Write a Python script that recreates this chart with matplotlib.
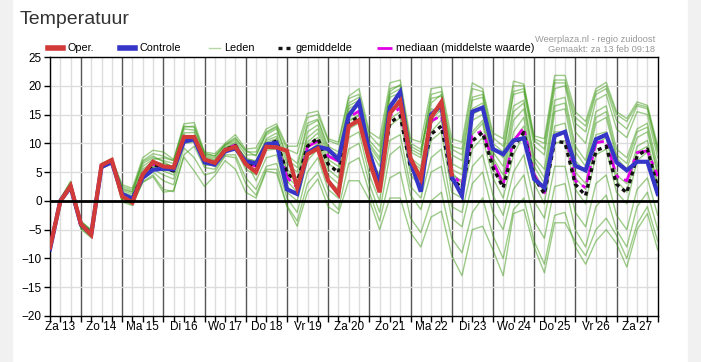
import numpy as np
import matplotlib.pyplot as plt
from matplotlib.lines import Line2D
from matplotlib.patches import Rectangle
import matplotlib.transforms as mtransforms

plt.rcParams['font.family'] = ['Liberation Sans', 'DejaVu Sans']

# ---------- data: 6-hourly steps, hours since Za 13 00:00 ----------
hours = np.arange(6, 361, 6)          # 60 steps
day_labels = ['Za 13', 'Zo 14', 'Ma 15', 'Di 16', 'Wo 17', 'Do 18', 'Vr 19', 'Za 20',
              'Zo 21', 'Ma 22', 'Di 23', 'Wo 24', 'Do 25', 'Vr 26', 'Za 27']

oper = [-8.1, -0.1, 2.6, -4.0, -5.9, 6.2, 7.1, 0.8, -0.3, 4.6,
        6.8, 6.0, 5.8, 11.1, 11.1, 7.2, 6.6, 8.8, 9.4, 6.4,
        5.0, 9.4, 9.3, 8.7, 2.3, 8.1, 9.1, 3.5, 1.2, 13.0,
        14.0, 7.0, 1.5, 15.2, 17.4, 7.4, 3.8, 14.5, 17.2, 4.6]

controle = [-8.4, 0.0, 2.4, -4.1, -5.8, 5.9, 6.7, 1.2, 0.4, 4.0,
            5.4, 5.6, 5.5, 10.3, 10.7, 6.7, 6.3, 8.6, 9.1, 6.9,
            6.5, 9.8, 10.1, 2.0, 1.2, 8.4, 9.4, 9.0, 7.2, 14.8,
            17.2, 8.5, 2.7, 16.3, 18.9, 6.8, 1.6, 15.0, 16.6, 4.2,
            0.9, 15.5, 16.2, 9.0, 8.1, 10.5, 10.9, 3.8, 2.3, 11.3,
            12.0, 6.1, 5.3, 10.7, 11.5, 6.7, 5.3, 6.8, 6.8, 1.2]

gemiddelde = [-8.2, 0.0, 2.6, -4.2, -5.6, 6.0, 6.9, 1.0, 0.4, 4.6,
              6.3, 5.8, 5.2, 10.9, 11.0, 7.0, 6.5, 8.9, 9.6, 6.5,
              5.8, 9.8, 10.4, 4.9, 3.2, 9.5, 10.9, 6.4, 4.9, 13.6,
              14.6, 7.5, 3.5, 13.6, 14.8, 5.8, 4.3, 11.6, 13.0, 3.8,
              2.3, 10.4, 11.9, 5.8, 2.3, 9.3, 11.9, 4.1, 1.2, 10.4,
              10.1, 2.9, 0.9, 8.7, 9.5, 2.9, 1.4, 7.8, 9.0, 2.3]

mediaan = [-8.2, 0.0, 2.6, -4.1, -5.7, 6.0, 7.0, 1.0, 0.3, 4.7,
           6.4, 5.9, 5.4, 11.1, 11.1, 7.0, 6.5, 9.0, 9.7, 6.6,
           6.0, 9.9, 10.1, 4.1, 2.3, 9.4, 10.4, 7.8, 6.9, 14.5,
           15.6, 7.8, 3.0, 14.8, 16.2, 6.4, 4.0, 13.9, 14.8, 4.6,
           2.9, 11.3, 12.2, 6.9, 2.9, 10.4, 12.7, 4.6, 1.4, 11.3,
           11.9, 3.5, 2.3, 10.1, 10.4, 4.3, 3.5, 8.4, 8.7, 4.3]

leden = [
    [-8.0, 0.3, 3.3, -3.6, -5.1, 6.4, 7.4, 2.8, 2.2, 7.5,
     8.8, 8.5, 7.2, 13.4, 13.6, 8.5, 8.2, 10.0, 11.5, 9.0,
     9.2, 12.5, 13.4, 9.5, 9.5, 15.2, 15.6, 10.8, 10.2, 18.2,
     19.5, 12.0, 10.8, 20.5, 21.0, 10.8, 10.2, 19.5, 19.8, 10.8,
     10.2, 20.5, 19.5, 11.8, 10.8, 20.8, 20.3, 11.3, 10.8, 21.8,
     21.8, 15.5, 13.8, 19.5, 20.6, 15.5, 14.3, 17.2, 16.6, 9.6],
    [-8.3, 0.1, 3.0, -4.0, -5.4, 6.2, 7.2, 2.0, 1.5, 6.5,
     7.5, 7.0, 6.5, 12.5, 12.3, 8.0, 7.5, 9.6, 10.5, 8.0,
     8.0, 11.5, 12.5, 8.0, 6.5, 13.5, 14.2, 9.5, 8.5, 17.0,
     18.0, 10.5, 8.5, 18.5, 19.5, 9.5, 8.5, 17.8, 18.2, 9.0,
     8.0, 18.0, 18.5, 10.0, 8.5, 18.5, 19.0, 9.5, 8.0, 19.5,
     20.0, 12.0, 10.0, 17.5, 18.5, 12.5, 11.0, 15.5, 15.0, 7.5],
    [-8.1, -0.2, 2.4, -4.5, -6.0, 5.8, 6.8, 0.5, -0.2, 4.0,
     5.5, 4.5, 3.8, 10.0, 10.2, 6.5, 6.0, 8.5, 9.0, 5.5,
     4.5, 8.8, 9.0, 2.5, 1.0, 8.5, 10.0, 4.5, 3.0, 12.5,
     13.5, 6.0, 1.5, 13.0, 14.5, 4.5, 2.5, 10.5, 12.0, 1.5,
     0.5, 9.0, 11.0, 4.0, 0.5, 8.0, 11.5, 3.0, -0.5, 10.0,
     10.5, 2.0, -0.5, 8.0, 9.0, 1.5, -0.5, 7.0, 8.5, 2.0],
    [-8.4, 0.2, 2.8, -3.8, -5.3, 6.1, 7.0, 1.5, 0.9, 5.5,
     6.8, 6.5, 6.0, 11.8, 11.9, 7.6, 7.0, 9.3, 10.2, 7.2,
     7.0, 10.8, 11.8, 6.5, 5.0, 11.0, 12.5, 8.0, 7.0, 15.5,
     16.5, 9.0, 6.0, 17.0, 17.5, 7.5, 6.0, 15.0, 16.5, 6.5,
     5.5, 16.0, 17.0, 8.5, 6.0, 16.5, 17.5, 7.5, 5.5, 17.5,
     18.0, 9.5, 7.0, 15.5, 16.5, 9.0, 7.5, 12.5, 13.5, 6.0],
    [-8.2, -0.3, 2.2, -4.7, -6.3, 5.6, 6.6, -0.2, -0.8, 3.3,
     4.5, 2.0, 1.6, 8.0, 9.5, 5.8, 5.5, 8.0, 8.0, 4.0,
     2.0, 6.0, 6.5, 0.5, -2.0, 5.0, 7.5, 2.0, 0.5, 9.0,
     10.0, 3.0, -2.0, 8.0, 9.5, 1.0, -1.5, 5.0, 6.0, -3.0,
     -4.5, 3.0, 5.0, -2.0, -5.0, 2.0, 4.5, -3.5, -6.5, 2.5,
     3.0, -5.0, -8.0, -1.0, 1.0, -5.0, -8.0, -1.0, 1.5, -5.0],
    [-8.0, 0.0, 2.7, -4.1, -5.5, 6.0, 7.1, 1.2, 0.6, 5.0,
     6.2, 6.0, 5.5, 11.2, 11.2, 7.2, 6.6, 9.0, 9.8, 6.8,
     6.2, 10.2, 10.8, 5.5, 4.0, 10.2, 11.8, 7.2, 6.0, 14.5,
     15.5, 8.0, 4.0, 15.5, 16.5, 6.5, 5.0, 13.5, 15.0, 4.5,
     3.5, 14.0, 15.0, 7.0, 3.5, 14.0, 16.0, 6.0, 3.0, 15.5,
     16.0, 7.0, 5.0, 13.5, 14.5, 7.5, 5.5, 11.0, 12.0, 4.5],
    [-8.3, 0.4, 3.4, -3.5, -5.0, 6.5, 7.3, 2.5, 1.9, 6.8,
     7.8, 6.8, 5.8, 11.5, 10.5, 6.2, 6.3, 8.6, 9.3, 6.0,
     5.0, 9.5, 10.5, 3.5, 1.5, 9.2, 10.5, 5.5, 4.0, 13.8,
     14.8, 7.0, 3.0, 14.2, 15.5, 5.5, 4.0, 12.0, 14.0, 3.5,
     2.0, 11.5, 13.5, 5.5, 2.5, 12.0, 14.5, 4.5, 1.5, 13.0,
     13.5, 5.0, 3.0, 11.5, 12.0, 4.5, 3.0, 9.5, 10.5, 3.0],
    [-8.2, -0.1, 2.5, -4.4, -5.8, 5.9, 6.7, 0.3, 0.0, 3.8,
     5.0, 3.5, 2.8, 9.2, 7.5, 4.5, 5.0, 7.8, 7.5, 3.0,
     1.0, 5.5, 5.5, -0.8, -3.5, 3.0, 5.0, 0.5, -1.5, 6.5,
     7.5, 1.5, -3.5, 4.0, 5.0, -3.0, -5.5, 0.0, 1.5, -6.5,
     -9.0, -2.0, 0.5, -6.0, -10.0, -1.5, 0.5, -7.0, -11.0, -2.5,
     -2.0, -8.0, -11.0, -7.0, -5.0, -7.4, -11.5, -5.0, -2.2, -8.5],
    [-8.5, -0.4, 2.1, -4.9, -6.4, 5.6, 6.5, 0.0, -0.6, 3.2,
     4.2, 1.5, 1.8, 7.6, 5.2, 2.5, 4.4, 7.0, 5.5, 1.5,
     0.5, 5.2, 4.8, -1.0, -4.4, 1.5, 3.8, -1.0, -2.2, 3.5,
     3.5, 0.2, -5.0, 0.5, 0.5, -5.5, -8.0, -2.8, -1.8, -9.5,
     -13.0, -5.0, -4.4, -8.5, -13.0, -2.2, -1.5, -8.0, -12.5, -3.8,
     -3.8, -7.0, -9.5, -5.0, -3.0, -6.0, -10.0, -4.0, -1.0, -7.0],
    [-7.9, 0.2, 2.9, -3.9, -5.2, 6.3, 7.2, 1.8, 1.2, 6.0,
     7.2, 7.5, 7.0, 12.8, 13.0, 8.3, 7.8, 9.8, 11.0, 8.5,
     8.5, 12.0, 13.0, 9.0, 8.2, 14.5, 15.0, 10.5, 9.8, 17.8,
     18.5, 11.5, 9.5, 19.5, 20.0, 10.0, 9.0, 16.0, 15.5, 5.0,
     3.0, 12.0, 14.0, 6.5, 3.0, 10.5, 13.0, 5.0, 2.0, 12.0,
     12.0, 4.0, 2.0, 10.0, 11.0, 3.5, 1.5, 8.5, 9.5, 2.5],
    [-8.1, 0.1, 2.6, -4.3, -5.7, 5.9, 6.9, 0.8, 0.2, 4.4,
     5.8, 5.2, 4.5, 10.4, 11.4, 7.8, 7.2, 9.2, 9.6, 7.5,
     6.8, 10.5, 11.2, 5.0, 3.0, 12.0, 13.2, 8.5, 7.5, 16.0,
     17.0, 9.5, 7.0, 18.0, 18.8, 8.5, 7.5, 17.0, 18.5, 8.0,
     7.0, 17.5, 18.0, 9.5, 7.5, 19.0, 19.5, 10.5, 9.0, 20.5,
     20.5, 13.5, 12.0, 18.5, 19.5, 14.0, 12.5, 16.5, 16.0, 8.5],
    [-8.3, -0.2, 2.3, -4.6, -6.1, 5.7, 6.8, 0.6, -0.3, 4.2,
     6.0, 5.5, 5.0, 10.8, 10.8, 6.8, 6.2, 8.8, 9.4, 6.2,
     5.5, 9.2, 9.8, 4.2, 2.5, 9.8, 11.0, 6.5, 5.2, 14.0,
     15.0, 7.8, 4.5, 16.0, 17.0, 7.0, 5.5, 14.2, 15.8, 5.5,
     4.5, 15.0, 16.0, 7.5, 4.5, 15.5, 17.0, 7.0, 4.0, 16.5,
     17.0, 8.5, 6.0, 14.5, 15.5, 8.0, 6.5, 12.0, 12.8, 5.0],
    [-8.0, 0.3, 3.1, -3.7, -5.3, 6.3, 7.3, 2.2, 1.6, 7.0,
     8.2, 7.8, 7.0, 13.0, 12.8, 8.2, 7.8, 9.7, 10.8, 8.8,
     7.8, 11.8, 12.8, 7.2, 5.8, 13.0, 14.0, 9.0, 8.0, 16.5,
     17.5, 10.0, 7.5, 19.0, 20.2, 9.0, 8.0, 18.5, 19.0, 9.5,
     9.0, 19.5, 19.0, 11.0, 9.5, 20.0, 20.0, 10.8, 10.0, 21.0,
     21.0, 14.5, 13.0, 19.0, 20.0, 15.0, 13.8, 16.8, 16.3, 9.0],
    [-8.2, 0.0, 2.5, -4.2, -5.6, 6.0, 6.9, 1.0, 0.3, 4.8,
     6.5, 5.9, 5.3, 11.0, 11.3, 7.3, 6.8, 9.1, 10.0, 7.0,
     3.5, 7.5, 8.0, 1.5, 0.0, 7.0, 9.0, 3.5, 2.0, 11.0,
     12.0, 4.5, 0.0, 10.5, 11.5, 2.5, 0.5, 7.5, 9.0, -1.0,
     -2.0, 6.0, 8.0, 1.0, -2.5, 5.0, 8.0, 0.0, -3.0, 6.0,
     6.0, -2.0, -4.5, 3.0, 4.5, -2.5, -5.0, 2.0, 4.0, -2.5],
]

# ---------- figure ----------
W, H = 701, 362
fig = plt.figure(figsize=(W / 100, H / 100), dpi=100)
fig.patch.set_facecolor('white')
fig.add_artist(Rectangle((0, 0), 12 / W, 1, transform=fig.transFigure, color='#f1f1f1', zorder=0))
fig.add_artist(Rectangle((688 / W, 0), 13 / W, 1, transform=fig.transFigure, color='#f1f1f1', zorder=0))

ax = fig.add_axes([50 / W, 46 / H, 607.7 / W, 259 / H])

# members
for m in leden:
    ax.plot(hours, m, color='#3d9a14', lw=1.0, alpha=0.5, zorder=2)
ax.plot(hours, mediaan, color='#e000e6', lw=2, linestyle=(0, (6, 2, 1.5, 2)), zorder=3)
ax.plot(hours, gemiddelde, color='#111111', lw=2.4, linestyle=(0, (1.2, 1.2)), zorder=4)
ax.plot(hours, controle, color='#3535c8', lw=3, zorder=5, solid_joinstyle='miter')
ax.plot(hours[:len(oper)], oper, color='#d23a3a', lw=3, zorder=6, solid_joinstyle='miter')

# grid
for h in hours:
    if h % 24:
        ax.axvline(h, color='#dddddd', lw=1, zorder=1)
for h in range(24, 360, 24):
    ax.axvline(h, color='#555555', lw=1, zorder=1)
for v in range(-15, 25, 5):
    ax.axhline(v, color='#dddddd', lw=1, zorder=1)
ax.axhline(0, color='black', lw=2, zorder=7)

ax.set_xlim(6, 360)
ax.set_ylim(-20, 25)
ax.set_yticks(np.arange(-20, 26, 5))
ax.tick_params(axis='y', length=4, width=1, pad=2, labelsize=8.5, colors='black')
ax.set_xticks(hours)
ax.set_xticklabels([])
ax.tick_params(axis='x', length=4, width=1)
for s in ax.spines.values():
    s.set_color('black')
    s.set_linewidth(1)

trans = mtransforms.blended_transform_factory(ax.transData, ax.transAxes)
for k, lab in enumerate(day_labels):
    ax.text(12 + 24 * k, -0.02, lab, transform=trans, ha='center', va='top', fontsize=8.5)

# title and header texts
fig.text(20 / W, 1 - 20 / H, 'Temperatuur', fontsize=14, color='#333333', va='center', ha='left')
fig.text(655 / W, 1 - 40 / H, 'Weerplaza.nl - regio zuidoost', fontsize=6.7, color='#999999',
         ha='right', va='center')
fig.text(655 / W, 1 - 50 / H, 'Gemaakt: za 13 feb 09:18', fontsize=6.7, color='#999999',
         ha='right', va='center')

# legend
ly = 1 - 48 / H
legend_items = [
    (48, 63, dict(color='#d23a3a', lw=4), 'Oper.'),
    (120, 135, dict(color='#3535c8', lw=4), 'Controle'),
    (209, 220, dict(color='#b5d9a5', lw=1), 'Leden'),
    (278, 292, dict(color='#111111', lw=2.4, linestyle=(0, (1.2, 1.2))), 'gemiddelde'),
    (377, 392, dict(color='#e000e6', lw=2, linestyle=(0, (6, 2, 1.5, 2))), 'mediaan (middelste waarde)'),
]
for x0, x1, style, lab in legend_items:
    fig.add_artist(Line2D([x0 / W, x1 / W], [ly, ly], transform=fig.transFigure, **style))
    fig.text((x1 + 4) / W, ly, lab, fontsize=7.8, va='center', ha='left', color='black')

fig.savefig('out.png', dpi=100)
